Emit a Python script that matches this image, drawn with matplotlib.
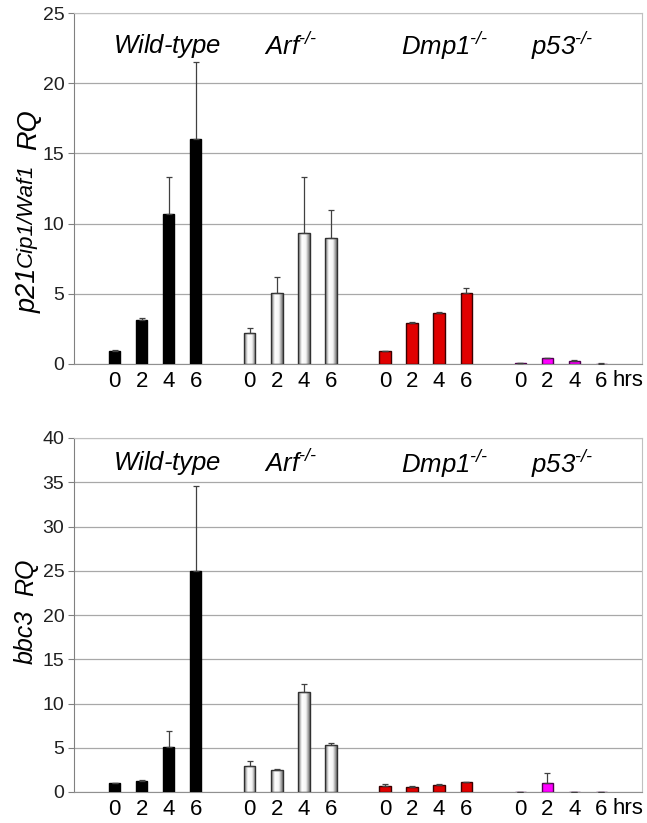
import numpy as np
import matplotlib
matplotlib.use("Agg")
import matplotlib.pyplot as plt
from matplotlib.colors import LinearSegmentedColormap

plt.rcParams['font.family'] = ['Liberation Sans', 'DejaVu Sans']
plt.rcParams['mathtext.fontset'] = 'custom'
plt.rcParams['mathtext.it'] = 'Liberation Sans:italic'
plt.rcParams['mathtext.rm'] = 'Liberation Sans:italic'
plt.rcParams['mathtext.default'] = 'it'

# ---------------- data ----------------
groups = ['Wild-type', 'Arf-/-', 'Dmp1-/-', 'p53-/-']
group_labels = [r'$\text{Wild-type}$', r'$\text{Arf}^{\text{-/-}}$',
                r'$\text{Dmp1}^{\text{-/-}}$', r'$\text{p53}^{\text{-/-}}$']
hours = ['0', '2', '4', '6']

p21_wt = [0.95, 3.13, 10.7, 16.0]
p21_wt_err = [1.0, 3.3, 13.35, 21.5]
p21_arf = [2.23, 5.03, 9.3, 9.0]
p21_arf_err = [2.54, 6.2, 13.35, 11.0]
p21_dmp1 = [0.9, 2.94, 3.65, 5.08]
p21_dmp1_err = [0.95, 3.0, 3.72, 5.43]
p21_p53 = [0.05, 0.4, 0.19, 0.02]
p21_p53_err = [0.07, 0.46, 0.26, 0.06]

bbc3_wt = [1.0, 1.25, 5.05, 25.0]
bbc3_wt_err = [1.05, 1.4, 6.9, 34.6]
bbc3_arf = [2.97, 2.45, 11.26, 5.31]
bbc3_arf_err = [3.54, 2.56, 12.2, 5.5]
bbc3_dmp1 = [0.72, 0.6, 0.79, 1.13]
bbc3_dmp1_err = [0.9, 0.66, 0.86, 1.16]
bbc3_p53 = [0.02, 1.02, 0.03, 0.03]
bbc3_p53_err = [0.04, 2.1, 0.05, 0.05]

colors = ['#000000', None, '#e00000', '#ff00ff']
edge = ['#000000', '#303030', '#3a0000', '#500050']
gray_cmap = LinearSegmentedColormap.from_list('cyl', ['#6e6e6e', '#ffffff', '#f4f4f4', '#6e6e6e'])

W, H = 647, 823
fig = plt.figure(figsize=(W / 100, H / 100), dpi=100)
renderer = fig.canvas.get_renderer()


def panel(rect, series, errs, ymax, ystep, label_y):
    ax = fig.add_axes(rect)
    ax.set_xlim(-1.5, 19.5)
    ax.set_ylim(0, ymax)
    ax.set_yticks(np.arange(0, ymax + 0.1, ystep))
    ax.yaxis.grid(True, color='#a8a8a8', lw=0.9)
    ax.set_axisbelow(True)
    for s in ['top', 'right']:
        ax.spines[s].set_color('#c0c0c0')
    ax.spines['left'].set_color('#808080')
    ax.spines['bottom'].set_color('#909090')
    ax.tick_params(axis='y', direction='out', length=4, color='#808080',
                   labelsize=14, labelcolor='#202020', pad=3)
    ax.tick_params(axis='x', length=0, labelsize=16, pad=5)
    xt = []
    for g in range(4):
        xs = np.arange(4) + 5 * g
        xt.extend(xs)
        vals = series[g]
        err = np.array(errs[g]) - np.array(vals)
        if colors[g] is None:
            bars = ax.bar(xs, vals, width=0.42, facecolor='none',
                          edgecolor=edge[g], lw=1.0, zorder=3)
            grad = np.linspace(0, 1, 64).reshape(1, -1)
            for b in bars:
                x0 = b.get_x()
                im = ax.imshow(grad, cmap=gray_cmap, aspect='auto',
                               extent=[x0, x0 + b.get_width(), 0, b.get_height()],
                               zorder=2.5, interpolation='bilinear')
                im.set_clip_path(b)
        else:
            ax.bar(xs, vals, width=0.42, color=colors[g], edgecolor=edge[g],
                   lw=1.0, zorder=3)
        ax.errorbar(xs, vals, yerr=[np.zeros(4), err], fmt='none',
                    ecolor='#404040', elinewidth=0.9, capsize=2, capthick=0.9,
                    zorder=4)
    ax.set_xticks(xt)
    ax.set_xticklabels(hours * 4)
    ax.set_xlim(-1.5, 19.5)
    ax.set_ylim(0, ymax)
    ax.text(18.42, -0.016, 'hrs', transform=ax.get_xaxis_transform(),
            ha='left', va='top', fontsize=16)
    xs_lab = [1.94, 6.5, 12.2, 16.55]
    for x, lab in zip(xs_lab, group_labels):
        ax.text(x, label_y, lab, transform=ax.get_xaxis_transform(),
                ha='center', va='center', fontsize=18.5)
    return ax


def rotated_label(pieces, x_base, y_center):
    """pieces: (text, fontsize, raise_px, gap_px_before); pixel coords from top-left."""
    texts = []
    for s, fs, rz, gap in pieces:
        t = fig.text(0, 0, s, rotation=90, rotation_mode='anchor', ha='left',
                     va='baseline', fontsize=fs, style='italic')
        bb = t.get_window_extent(renderer)
        texts.append((t, bb.height, rz, gap))
    total = sum(h + g for _, h, _, g in texts)
    y = (H - y_center) - total / 2.0
    for t, h, rz, gap in texts:
        y += gap
        t.set_position(((x_base - rz) / W, y / H))
        y += h


ax1 = panel([74 / W, (H - 364) / H, 568 / W, 351 / H],
            [p21_wt, p21_arf, p21_dmp1, p21_p53],
            [p21_wt_err, p21_arf_err, p21_dmp1_err, p21_p53_err],
            25, 5, 0.905)
rotated_label([('p21', 19.5, 0, 0), ('Cip1/Waf1', 16, 4, 0), ('RQ', 19.5, 0, 14)],
              36, 211)

ax2 = panel([74 / W, (H - 792) / H, 568 / W, 354 / H],
            [bbc3_wt, bbc3_arf, bbc3_dmp1, bbc3_p53],
            [bbc3_wt_err, bbc3_arf_err, bbc3_dmp1_err, bbc3_p53_err],
            40, 5, 0.928)
rotated_label([('bbc3', 18, 0, 0), ('RQ', 18, 0, 14)], 33, 611)

fig.savefig('out.png', dpi=100)
